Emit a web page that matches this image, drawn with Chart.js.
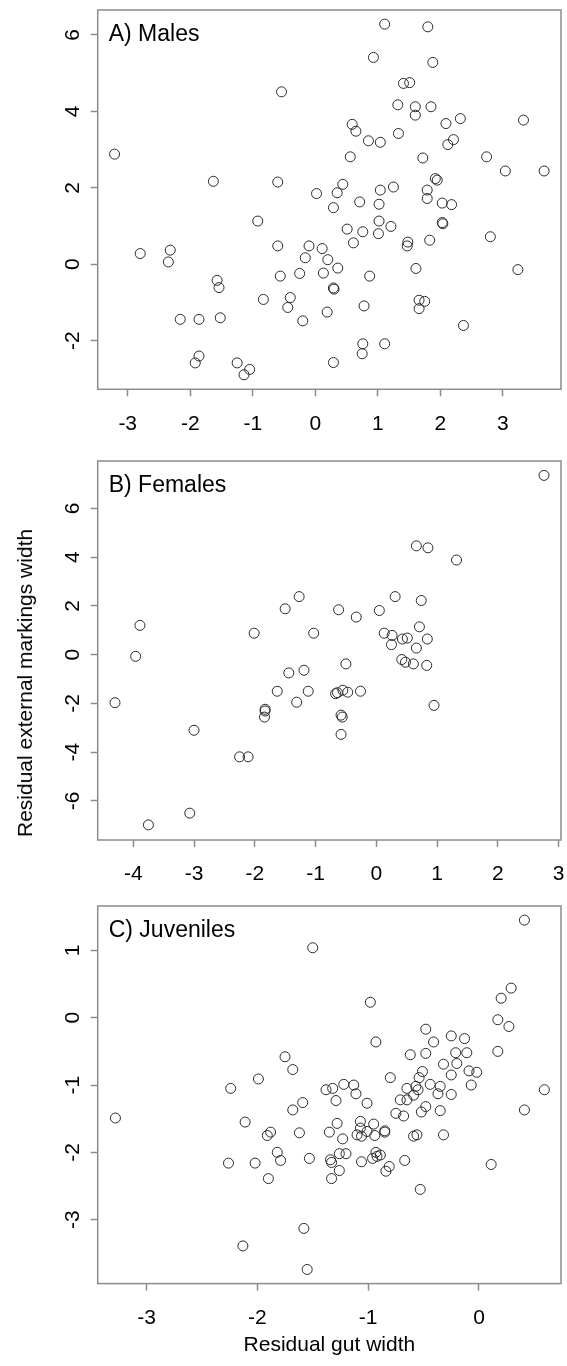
<!DOCTYPE html>
<html lang="en">
<head>
<meta charset="UTF-8">
<title>Residual external markings width vs residual gut width</title>
<script src="https://cdn.jsdelivr.net/npm/chart.js"></script>
<style>
  body { margin: 0; background: #fff; }
  #wrap { position: relative; width: 567px; height: 1366px; }
  #wrap canvas { position: absolute; left: 0; }
  #ylab {
    position: absolute; left: 25px; top: 683px;
    transform: translate(-50%, -50%) rotate(-90deg);
    white-space: nowrap; color: #000;
    font: 21px 'Liberation Sans', Arial, sans-serif;
  }
</style>
</head>
<body>
<div id="wrap">
  <canvas id="males" width="567" height="450" style="top:0"></canvas>
  <canvas id="females" width="567" height="450" style="top:450px"></canvas>
  <canvas id="juveniles" width="567" height="466" style="top:900px"></canvas>
  <div id="ylab">Residual external markings width</div>
</div>

<script>
// residual gut width (x) and residual external markings width (y)
const malesX = [-3.21, -1.63, -0.60, 0.02, -0.54, 1.11, 1.80, 0.93, 1.88, 1.41,
  1.51, 1.32, 1.60, 1.60, 1.85, 0.59, 0.65, 0.85, 1.04, 1.33,
  2.09, 2.32, 3.33, 2.21, 2.12, 0.56, 1.72, 2.74, 3.04, 3.66,
  0.44, 0.35, 1.04, 1.25, 1.92, 1.95, 1.79, 1.79, 0.29, 0.71,
  1.02, 2.03, 2.18, 1.02, 1.21, 0.51, 0.76, 1.01, 2.03, 2.04,
  2.80, 0.61, 1.48, 1.47, 1.83, 0.11, 0.20, 0.13, 0.36, 0.87,
  1.61, 3.24, 0.29, 0.30, 0.19, 0.78, 1.66, 1.75, 1.66, 2.37,
  0.76, 1.11, 0.75, 0.29, -2.80, -2.32, -2.35, -0.92, -0.60, -0.10,
  -0.16, -1.57, -1.54, -0.56, -0.25, -0.83, -0.40, -0.44, -0.20, -2.16,
  -1.86, -1.52, -1.86, -1.92, -1.25, -1.05, -1.14];
const malesY = [2.88, 2.17, 2.15, 1.85, 4.51, 6.28, 6.21, 5.41, 5.28, 4.73,
  4.75, 4.17, 4.12, 3.90, 4.12, 3.66, 3.48, 3.23, 3.19, 3.42,
  3.68, 3.81, 3.77, 3.26, 3.13, 2.81, 2.78, 2.81, 2.44, 2.44,
  2.09, 1.87, 1.94, 2.02, 2.24, 2.20, 1.94, 1.72, 1.48, 1.63,
  1.57, 1.60, 1.56, 1.13, 0.99, 0.92, 0.85, 0.80, 1.09, 1.06,
  0.72, 0.56, 0.58, 0.48, 0.63, 0.41, 0.12, -0.23, -0.10, -0.31,
  -0.11, -0.14, -0.62, -0.65, -1.25, -1.09, -0.94, -0.97, -1.16, -1.60,
  -2.08, -2.08, -2.34, -2.57, 0.28, 0.37, 0.06, 1.13, 0.48, 0.48,
  0.17, -0.42, -0.61, -0.31, -0.24, -0.92, -0.87, -1.13, -1.48, -1.44,
  -1.44, -1.40, -2.40, -2.58, -2.58, -2.75, -2.89];

const femalesX = [-3.89, -1.50, -1.27, 2.76, 0.66, 0.85, 1.32, 0.31, 0.74, -0.62,
  -0.33, 0.05, 0.71, -1.03, 0.13, 0.26, 0.43, 0.51, 0.84, 0.25,
  0.66, 0.42, 0.48, 0.61, 0.83, -0.50, -1.19, -1.12, -0.67, -0.64,
  -0.55, -0.47, -0.26, -0.58, -0.56, -0.58, 0.95, -3.96, -4.30, -2.01,
  -1.44, -1.63, -1.31, -1.83, -1.83, -1.84, -3.00, -2.25, -2.11, -3.07, -3.75];
const femalesY = [1.20, 1.88, 2.38, 7.35, 4.46, 4.38, 3.88, 2.38, 2.22, 1.84,
  1.54, 1.81, 1.14, 0.88, 0.88, 0.79, 0.64, 0.68, 0.64, 0.41,
  0.27, -0.20, -0.31, -0.38, -0.44, -0.38, -0.64, -1.50, -1.60, -1.56,
  -1.46, -1.54, -1.50, -2.48, -2.56, -3.27, -2.08, -0.07, -1.97, 0.88,
  -0.75, -1.50, -1.95, -2.24, -2.31, -2.56, -3.10, -4.19, -4.19, -6.50, -6.98];

const juvenilesX = [-1.50, -1.75, -1.68, -1.99, -2.24, 0.41, 0.29, 0.20, -0.98, 0.17,
  0.27, -0.48, -0.41, -0.25, -0.13, -0.93, -0.62, -0.48, -0.21, -0.11,
  0.17, -0.32, -0.20, -0.51, -0.54, -0.25, -0.09, -0.02, -0.80, -0.07,
  -1.22, -1.13, -1.32, -1.38, -0.65, -0.57, -0.44, -0.35, 0.59, -1.11,
  -1.29, -1.01, -0.55, -0.59, -0.65, -0.71, -0.37, -0.25, 0.41, -0.48,
  -0.52, -0.35, -0.75, -0.68, -1.28, -1.35, -1.23, -1.07, -1.07, -1.10,
  -1.06, -1.01, -0.95, -0.94, -0.85, -0.85, -0.59, -0.56, -0.32, -1.34,
  -1.33, -1.26, -1.20, -1.26, -1.33, -1.06, -0.96, -0.93, -0.89, -0.92,
  -0.81, -0.84, -0.67, 0.11, -0.53, -3.28, -1.68, -1.59, -2.11, -1.91,
  -1.88, -1.62, -1.82, -1.79, -1.53, -2.26, -2.02, -1.90, -1.58, -2.13, -1.55];
const juvenilesY = [1.04, -0.58, -0.77, -0.91, -1.05, 1.45, 0.44, 0.29, 0.23, -0.03,
  -0.13, -0.17, -0.36, -0.27, -0.31, -0.36, -0.55, -0.53, -0.52, -0.52,
  -0.50, -0.69, -0.68, -0.80, -0.89, -0.85, -0.79, -0.81, -0.89, -1.00,
  -0.99, -1.00, -1.05, -1.07, -1.05, -1.02, -0.99, -1.02, -1.07, -1.13,
  -1.23, -1.27, -1.07, -1.15, -1.22, -1.22, -1.13, -1.14, -1.37, -1.32,
  -1.40, -1.38, -1.42, -1.46, -1.57, -1.70, -1.80, -1.54, -1.64, -1.74,
  -1.76, -1.69, -1.58, -1.75, -1.68, -1.70, -1.76, -1.74, -1.74, -2.11,
  -2.15, -2.02, -2.02, -2.27, -2.39, -2.14, -2.09, -2.00, -2.04, -2.06,
  -2.21, -2.28, -2.12, -2.18, -2.55, -1.49, -1.37, -1.26, -1.55, -1.75,
  -1.70, -1.71, -2.00, -2.12, -2.09, -2.16, -2.16, -2.39, -3.13, -3.39, -3.74];

// tick positions for each panel
const malesXTicks = [-3, -2, -1, 0, 1, 2, 3];
const malesYTicks = [-2, 0, 2, 4, 6];
const femalesXTicks = [-4, -3, -2, -1, 0, 1, 2, 3];
const femalesYTicks = [-6, -4, -2, 0, 2, 4, 6];
const juvenilesXTicks = [-3, -2, -1, 0];
const juvenilesYTicks = [-3, -2, -1, 0, 1];

const FONT = "'Liberation Sans', Arial, Helvetica, sans-serif";
const AXIS_GREY = '#8c8c8c';
Chart.defaults.font.family = FONT;
Chart.defaults.font.size = 21;
Chart.defaults.color = '#000';

// box round the plot area plus the panel letter in the top-left corner
const panelFrame = {
  id: 'panelFrame',
  afterDraw(chart, args, opts) {
    const { ctx, chartArea: a } = chart;
    ctx.save();
    ctx.strokeStyle = AXIS_GREY;
    ctx.lineWidth = 1.5;
    ctx.strokeRect(a.left, a.top, a.right - a.left, a.bottom - a.top);
    ctx.fillStyle = '#000';
    ctx.font = '23px ' + FONT;
    ctx.textBaseline = 'alphabetic';
    ctx.textAlign = 'left';
    ctx.fillText(opts.label, a.left + 11, a.top + 30.5);
    ctx.restore();
  }
};

function axisGrid() {
  return { drawOnChartArea: false, drawTicks: true, tickLength: 7, tickColor: AXIS_GREY, tickWidth: 1.5 };
}

function buildPanel(id, xs, ys, p) {
  const points = xs.map((x, i) => ({ x: x, y: ys[i] }));
  return new Chart(document.getElementById(id), {
    type: 'scatter',
    data: {
      datasets: [{
        data: points,
        pointRadius: 5,
        pointHoverRadius: 5,
        pointBorderWidth: 1,
        pointBorderColor: '#2a2a2a',
        pointBackgroundColor: 'rgba(0,0,0,0)'
      }]
    },
    options: {
      responsive: false,
      animation: false,
      events: [],
      layout: { padding: { top: p.top, right: 5.5, left: 0, bottom: 0 } },
      plugins: {
        legend: { display: false },
        tooltip: { enabled: false },
        panelFrame: { label: p.label }
      },
      scales: {
        x: {
          type: 'linear',
          min: p.xMin,
          max: p.xMax,
          afterBuildTicks: s => { s.ticks = p.xTicks.map(v => ({ value: v })); },
          afterFit: s => { s.height = p.axisHeight; s.paddingLeft = 0; s.paddingRight = 0; },
          grid: axisGrid(),
          border: { display: false },
          ticks: { padding: 15, autoSkip: false, maxRotation: 0, color: '#000', callback: v => String(v) },
          title: p.xTitle
            ? { display: true, text: p.xTitle, color: '#000', padding: { top: 0, bottom: 8 } }
            : { display: false }
        },
        y: {
          type: 'linear',
          min: p.yMin,
          max: p.yMax,
          afterBuildTicks: s => { s.ticks = p.yTicks.map(v => ({ value: v })); },
          afterFit: s => { s.width = 97.7; s.paddingTop = 0; s.paddingBottom = 0; },
          grid: axisGrid(),
          border: { display: false },
          ticks: {
            padding: 8.6, autoSkip: false, minRotation: 90, maxRotation: 90,
            crossAlign: 'center', color: '#000', callback: v => String(v)
          }
        }
      }
    },
    plugins: [panelFrame]
  });
}

buildPanel('males', malesX, malesY, {
  label: 'A) Males', top: 10, axisHeight: 60.7,
  xMin: -3.48, xMax: 3.93, yMin: -3.27, yMax: 6.65,
  xTicks: malesXTicks, yTicks: malesYTicks
});

buildPanel('females', femalesX, femalesY, {
  label: 'B) Females', top: 11, axisHeight: 60,
  xMin: -4.585, xMax: 3.04, yMin: -7.60, yMax: 7.94,
  xTicks: femalesXTicks, yTicks: femalesYTicks
});

buildPanel('juveniles', juvenilesX, juvenilesY, {
  label: 'C) Juveniles', top: 4, axisHeight: 82.4,
  xMin: -3.44, xMax: 0.74, yMin: -3.95, yMax: 1.66,
  xTicks: juvenilesXTicks, yTicks: juvenilesYTicks,
  xTitle: 'Residual gut width'
});
</script>
</body>
</html>
